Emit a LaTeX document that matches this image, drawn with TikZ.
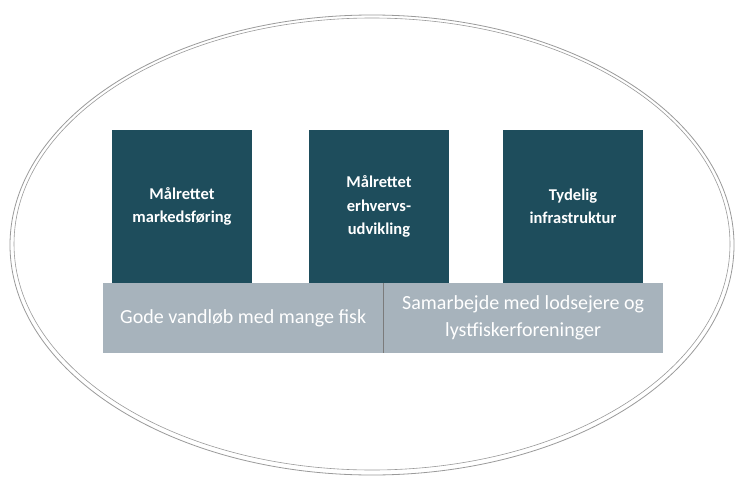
\documentclass[tikz,border=0pt]{standalone}
\usepackage{fontspec}
\setmainfont{Carlito}
\usetikzlibrary{positioning}
\definecolor{petrol}{HTML}{1E4D5C}
\definecolor{stone}{HTML}{A7B3BC}
\definecolor{rim}{HTML}{9A9A9A}

\begin{document}
\begin{tikzpicture}[x=1pt, y=-1pt,
    pillar/.style={fill=petrol, text=white, minimum width=140pt, minimum height=153pt,
        inner sep=0pt, align=center, font=\fontsize{16.5}{23.5}\selectfont\bfseries},
    base/.style={fill=stone, text=white, minimum width=280pt, minimum height=70pt,
        inner sep=0pt, align=center, font=\fontsize{20}{27}\selectfont}]
    \useasboundingbox (0,0) rectangle (738,484);
    \fill[white] (0,0) rectangle (738,484);

    % outer ring
    \draw[rim, line width=0.8pt] (372,245) ellipse [x radius=362, y radius=230];
    \draw[rim, line width=0.6pt] (372,244) ellipse [x radius=358, y radius=226];

    % pillars
    \node[pillar] (p1) at (182,206.5) {Målrettet\\markedsføring};
    \node[pillar] (p2) at (379,206.5) {Målrettet\\erhvervs-\\udvikling};
    \node[pillar] (p3) at (573,206.5) {Tydelig\\infrastruktur};

    % foundation
    \node[base, anchor=north west] (b1) at (103,283) {Gode vandløb med mange fisk};
    \node[base, anchor=north west, minimum width=279pt] (b2) at (b1.north east)
        {Samarbejde med lodsejere og\\lystfiskerforeninger};
    \draw[rim!80!black, line width=0.6pt] (b1.north east) -- (b1.south east);
\end{tikzpicture}
\end{document}
